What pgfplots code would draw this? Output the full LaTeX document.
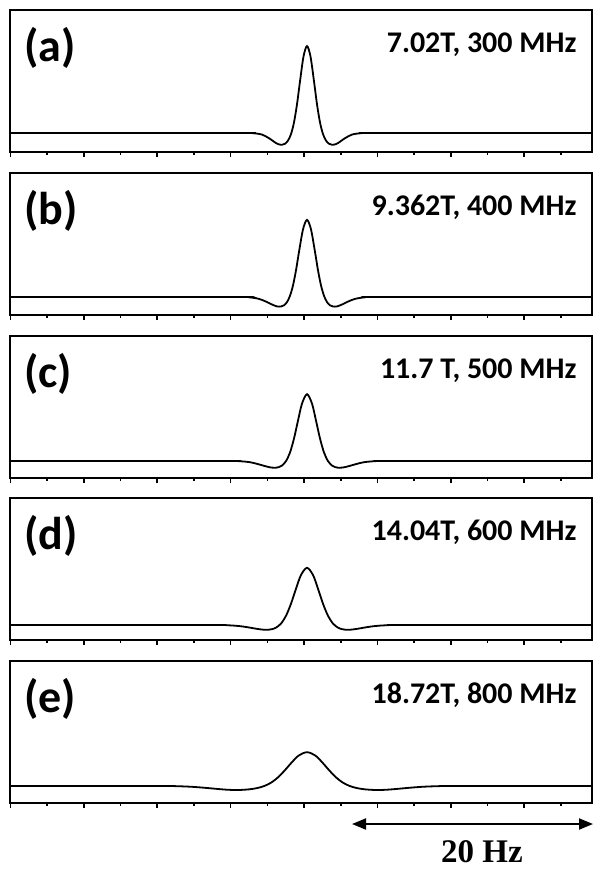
\documentclass[border=0pt]{standalone}
\usepackage{pgfplots}
\pgfplotsset{compat=1.18}
\usepackage{fontspec}
\usetikzlibrary{arrows.meta}
\newfontfamily\labfont{Carlito}
\newfontfamily\hzfont{Liberation Serif}

% x in px from the centre tick, y in px from the baseline
\pgfplotsset{
  panel/.style={
    scale only axis, width=291pt, height=71pt,
    xmin=-294, xmax=288,
    xtick={-293.6,-220.2,-146.8,-73.4,0,73.4,146.8,220.2},
    minor xtick={-256.9,-183.5,-110.1,-36.7,36.7,110.1,183.5,256.9},
    xticklabels={}, ytick=\empty,
    xtick pos=bottom, tick align=outside,
    major tick length=2.6pt, minor tick length=1.6pt,
    tick style={black, line width=0.8pt},
    axis line style={line width=1.3pt},
    clip=false, anchor=north west,
  },
  spec/.style={black, line width=0.9pt, smooth},
}
\newcommand\plabel[2]{%
  \node[anchor=base west, inner sep=0pt] at (rel axis cs:0.024,0.634)
    {\labfont\bfseries\fontsize{23}{27}\selectfont #1};
  \node[anchor=base east, inner sep=0pt] at (rel axis cs:0.974,0.704)
    {\labfont\bfseries\fontsize{15}{18}\selectfont #2};
}

\begin{document}
\begin{tikzpicture}
\useasboundingbox (0pt,0pt) rectangle (301.5pt,-435.5pt);

% (a)
\begin{axis}[panel, at={(5pt,-5pt)}, ymin=-19, ymax=123]
\addplot[spec] coordinates {
 (-294,0)(-67,0)(-52,-0.1)(-42,-1.6)(-35,-5.2)(-30,-8.7)(-26,-11.1)(-22,-11.8)
 (-19,-10.75)(-16,-7.6)(-13,-1.1)(-10,10.6)(-7,28.7)(-4,51.7)(-0.5,76.5)(3,86.9)
 (6.5,76.5)(10,51.7)(13,28.7)(16,10.6)(19,-1.1)(22,-7.6)(25,-10.75)(28,-11.8)
 (32,-11.1)(36,-8.7)(41,-5.2)(48,-1.6)(58,-0.1)(73,0)(288,0)};
\plabel{(a)}{7.02T, 300 MHz}
\end{axis}

% (b)
\begin{axis}[panel, at={(5pt,-86.5pt)}, ymin=-18, ymax=124]
\addplot[spec] coordinates {
 (-294,0)(-69,0)(-55,-0.3)(-45,-1.9)(-38,-4.6)(-32,-7.5)(-27,-9.4)(-23,-9.5)
 (-20,-8.3)(-17,-5.1)(-14,1.2)(-11,11.6)(-8,26.7)(-5,45.1)(-1,67.6)(3,77.1)
 (7,67.6)(11,45.1)(14,26.7)(17,11.6)(20,1.2)(23,-5.1)(26,-8.3)(29,-9.5)
 (33,-9.4)(38,-7.5)(44,-4.6)(51,-1.9)(61,-0.3)(75,0)(288,0)};
\plabel{(b)}{9.362T, 400 MHz}
\end{axis}

% (c)
\begin{axis}[panel, at={(5pt,-168pt)}, ymin=-17, ymax=125]
\addplot[spec] coordinates {
 (-294,0)(-82,0)(-65,-0.2)(-54,-1.2)(-46,-3.1)(-39,-5.1)(-33,-6.5)(-28,-6.7)
 (-25,-6.1)(-22,-4.55)(-18,-0.1)(-14,8.5)(-10,22.5)(-6,40.4)(-2,57.4)(3,66.8)
 (8,57.4)(12,40.4)(16,22.5)(20,8.5)(24,-0.1)(28,-4.55)(31,-6.1)(34,-6.7)
 (39,-6.5)(45,-5.1)(52,-3.1)(60,-1.2)(71,-0.2)(88,0)(288,0)};
\plabel{(c)}{11.7 T, 500 MHz}
\end{axis}

% (d)
\begin{axis}[panel, at={(5pt,-249pt)}, ymin=-15, ymax=127]
\addplot[spec] coordinates {
 (-294,0)(-97,0)(-77,-0.24)(-65,-1.05)(-56,-2.3)(-48,-3.7)(-41,-4.64)(-35,-4.65)
 (-32,-4.16)(-28,-2.65)(-23,1.4)(-18,9.2)(-13,21.3)(-8,36.3)(-3,50.0)(3,57.2)
 (9,50.0)(14,36.3)(19,21.3)(24,9.2)(29,1.4)(34,-2.65)(38,-4.16)(41,-4.65)
 (47,-4.64)(54,-3.7)(62,-2.3)(71,-1.05)(83,-0.24)(103,0)(288,0)};
\plabel{(d)}{14.04T, 600 MHz}
\end{axis}

% (e)
\begin{axis}[panel, at={(5pt,-330.5pt)}, ymin=-17, ymax=125]
\addplot[spec] coordinates {
 (-294,0)(-147,0)(-127,-0.2)(-112,-0.8)(-99,-1.8)(-87,-2.9)(-77,-3.7)(-69,-4.0)
 (-63,-3.9)(-55,-3.34)(-47,-2.1)(-40,-0.1)(-33,3.3)(-26,8.65)(-19,15.9)(-12,23.9)
 (-5,30.7)(3,33.8)(11,30.7)(18,23.9)(25,15.9)(32,8.65)(39,3.3)(46,-0.1)
 (53,-2.1)(61,-3.34)(69,-3.9)(75,-4.0)(83,-3.7)(93,-2.9)(105,-1.8)(118,-0.8)
 (133,-0.2)(153,0)(288,0)};
\plabel{(e)}{18.72T, 800 MHz}
\draw[{Triangle[length=7pt,width=5.5pt]}-{Triangle[length=7pt,width=5.5pt]}, line width=1pt]
  (axis cs:48,-38) -- (axis cs:289,-38);
\node[inner sep=0pt] at (axis cs:178,-66)
  {\hzfont\bfseries\fontsize{16.5}{19}\selectfont 20 Hz};
\end{axis}
\end{tikzpicture}
\end{document}
